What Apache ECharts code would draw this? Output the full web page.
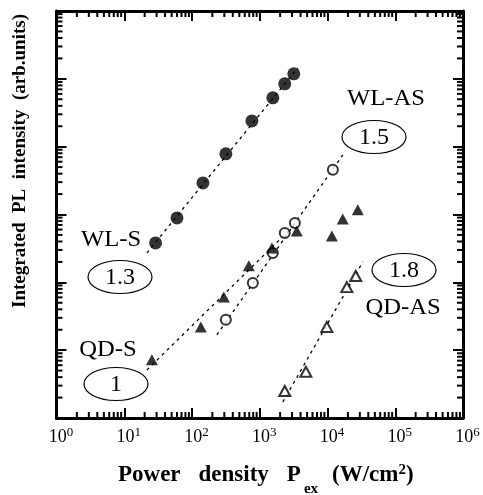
<!DOCTYPE html>
<html>
<head>
<meta charset="utf-8">
<script src="https://cdn.jsdelivr.net/npm/echarts@6/dist/echarts.min.js"></script>
<style>html,body{margin:0;padding:0;background:#fff;}#c{width:483px;height:495px;}</style>
</head>
<body>
<div id="c"></div>
<script>
// ---- data (x: power density W/cm^2, y: integrated PL intensity, arb. units) ----
const wlS_x = [29, 60, 145, 316, 766, 1560, 2340, 3180];
const wlS_y = [381, 891, 2920, 7830, 24000, 52500, 84300, 118600];
const wlAS_x = [316, 790, 1560, 2340, 3300, 12000];
const wlAS_y = [28, 98, 271, 535, 750, 4550];
const qdS_x = [25.6, 135, 295, 690, 1510, 3520, 11600, 16800, 28000];
const qdS_y = [7.2, 22, 61, 175, 321, 573, 483, 861, 1170];
const qdAS_x = [2340, 4790, 9770, 19300, 26100];
const qdAS_y = [2.5, 4.8, 22, 85, 124];
// fitted power-law lines (endpoints)
const fitWLS_x = [21.6, 3650];
const fitWLS_y = [271, 145300];
const fitWLAS_x = [233, 16800];
const fitWLAS_y = [16.8, 7570];
const fitQDS_x = [21.6, 3400];
const fitQDS_y = [5.1, 727];
const fitQDAS_x = [2190, 33200];
const fitQDAS_y = [1.72, 200];
// slopes / labels
const slopeLabels = ['1.3', '1.5', '1', '1.8'];
const seriesNames = ['WL-S', 'WL-AS', 'QD-S', 'QD-AS'];
// axis ticks (decade exponents)
const xTickExponents = [0, 1, 2, 3, 4, 5, 6];
const yTickExponents = [0, 1, 2, 3, 4, 5, 6];
const minorMultipliers = [2, 3, 4, 5, 6, 7, 8, 9];

const zip = (a, b) => a.map((v, i) => [v, b[i]]);
function majorVals(exps) { return exps.map(e => Math.pow(10, e)); }
function minorVals(exps) {
  const out = [];
  for (let i = 0; i < exps.length - 1; i++) minorMultipliers.forEach(k => out.push(k * Math.pow(10, exps[i])));
  return out;
}
const SERIF = '"Liberation Serif", "DejaVu Serif", serif';
const W = 483, H = 495;
const GRID = { left: 56.5, right: 20, top: 11, bottom: 77 };
const MINOR_LEN = 6;

function logAxis(pos, exps, showLabel) {
  const major = majorVals(exps);
  return {
    type: 'log', logBase: 10, min: major[0], max: major[major.length - 1], position: pos,
    axisLine: { show: true, onZero: false, lineStyle: { color: '#000', width: 3 } },
    axisTick: { show: true, inside: true, length: 10, lineStyle: { color: '#000', width: 2 } },
    minorTick: { show: false },
    splitLine: { show: false },
    axisLabel: showLabel ? {
      show: true, margin: 8,
      formatter: v => '{a|10}{b|' + Math.round(Math.log10(v)) + '}',
      rich: {
        a: { fontFamily: SERIF, fontSize: 18, color: '#000', padding: [0, 0, 0, 9] },
        b: { fontFamily: SERIF, fontSize: 13, color: '#000', padding: [0, 0, 10, 0] }
      }
    } : { show: false }
  };
}

// minor log ticks: positions come from an identical helper chart's log scales
function buildMinorTicks() {
  const els = [];
  try {
    const helper = echarts.init(document.createElement('div'), null, { width: W, height: H });
    helper.setOption({
      animation: false,
      grid: Object.assign({ containLabel: false }, GRID),
      xAxis: [logAxis('bottom', xTickExponents, false)],
      yAxis: [logAxis('left', yTickExponents, false)],
      series: []
    });
    const xl = GRID.left, xr = W - GRID.right, yt = GRID.top, yb = H - GRID.bottom;
    minorVals(xTickExponents).forEach(v => {
      const px = helper.convertToPixel({ xAxisIndex: 0 }, v);
      if (!isFinite(px)) return;
      els.push({ type: 'line', shape: { x1: px, y1: yb, x2: px, y2: yb - MINOR_LEN }, style: { stroke: '#000', lineWidth: 2 } });
      els.push({ type: 'line', shape: { x1: px, y1: yt, x2: px, y2: yt + MINOR_LEN }, style: { stroke: '#000', lineWidth: 2 } });
    });
    minorVals(yTickExponents).forEach(v => {
      const py = helper.convertToPixel({ yAxisIndex: 0 }, v);
      if (!isFinite(py)) return;
      els.push({ type: 'line', shape: { x1: xl, y1: py, x2: xl + MINOR_LEN, y2: py }, style: { stroke: '#000', lineWidth: 2 } });
      els.push({ type: 'line', shape: { x1: xr, y1: py, x2: xr - MINOR_LEN, y2: py }, style: { stroke: '#000', lineWidth: 2 } });
    });
    helper.dispose();
  } catch (e) { /* ignore */ }
  return els;
}

const dash = { color: '#000', width: 1.3, type: [3, 4] };
function fit(x, y) {
  return { type: 'line', data: zip(x, y), showSymbol: false, symbol: 'none', lineStyle: dash, z: 1, silent: true, animation: false };
}
function ellipse(cx, cy) {
  return { type: 'ellipse', shape: { cx: cx, cy: cy, rx: 32, ry: 16.5 }, style: { fill: 'none', stroke: '#000', lineWidth: 1.2 } };
}
function txt(x, y, s, size, sx) {
  return { type: 'text', x: x, y: y, scaleX: sx || 1,
    style: { text: s, font: size + 'px ' + SERIF, fill: '#000', textAlign: 'center', textVerticalAlign: 'middle' } };
}

const minorTickEls = buildMinorTicks();
const chart = echarts.init(document.getElementById('c'), null, { renderer: 'canvas' });
chart.setOption({
  animation: false,
  backgroundColor: '#fff',
  grid: Object.assign({ containLabel: false }, GRID),
  xAxis: [ logAxis('bottom', xTickExponents, true), logAxis('top', xTickExponents, false) ],
  yAxis: [ logAxis('left', yTickExponents, false), logAxis('right', yTickExponents, false) ],
  series: [
    fit(fitWLS_x, fitWLS_y), fit(fitWLAS_x, fitWLAS_y), fit(fitQDS_x, fitQDS_y), fit(fitQDAS_x, fitQDAS_y),
    { name: seriesNames[0], type: 'scatter', data: zip(wlS_x, wlS_y), symbol: 'circle', symbolSize: 13, itemStyle: { color: '#000' }, z: 3 },
    { name: seriesNames[1], type: 'scatter', data: zip(wlAS_x, wlAS_y), symbol: 'emptyCircle', symbolSize: 10, itemStyle: { color: '#000', borderColor: '#000', borderWidth: 1 }, z: 3 },
    { name: seriesNames[2], type: 'scatter', data: zip(qdS_x, qdS_y), symbol: 'triangle', symbolSize: [12, 11], itemStyle: { color: '#000' }, z: 3 },
    { name: seriesNames[3], type: 'scatter', data: zip(qdAS_x, qdAS_y), symbol: 'emptyTriangle', symbolSize: [11, 10], itemStyle: { color: '#000', borderColor: '#000', borderWidth: 1 }, z: 3 }
  ],
  graphic: [
    txt(111, 240, seriesNames[0], 23, 1.07), ellipse(120, 277), txt(120, 278, slopeLabels[0], 24),
    txt(386, 99, seriesNames[1], 23, 1.07), ellipse(374, 137), txt(374, 138, slopeLabels[1], 24),
    txt(108, 350, seriesNames[2], 23, 1.07), ellipse(116, 384), txt(116, 385, slopeLabels[2], 24),
    ellipse(404, 270), txt(404, 271, slopeLabels[3], 24), txt(403, 308, seriesNames[3], 23, 1.07),
    { type: 'text', x: 20, y: 161, rotation: Math.PI / 2,
      style: { text: 'Integrated  PL  intensity  (arb.units)', font: 'bold 19px ' + SERIF, fill: '#000', textAlign: 'center', textVerticalAlign: 'middle' } },
    { type: 'text', x: 118, y: 475,
      style: { text: '{t|Power}{g1|density}{g2|P}{s|ex}{g3|(W/cm}{p|2}{t|)}', textAlign: 'left', textVerticalAlign: 'middle',
        rich: {
          t: { font: 'bold 23px ' + SERIF, fill: '#000' },
          g1: { font: 'bold 23px ' + SERIF, fill: '#000', padding: [0, 0, 0, 18] },
          g2: { font: 'bold 23px ' + SERIF, fill: '#000', padding: [0, 0, 0, 18] },
          s: { font: 'bold 15px ' + SERIF, fill: '#000', padding: [28, 0, 0, 3] },
          g3: { font: 'bold 23px ' + SERIF, fill: '#000', padding: [0, 0, 0, 14] },
          p: { font: 'bold 15px ' + SERIF, fill: '#000', padding: [0, 0, 10, 0] }
        } } }
  ].concat(minorTickEls)
});
</script>
</body>
</html>
